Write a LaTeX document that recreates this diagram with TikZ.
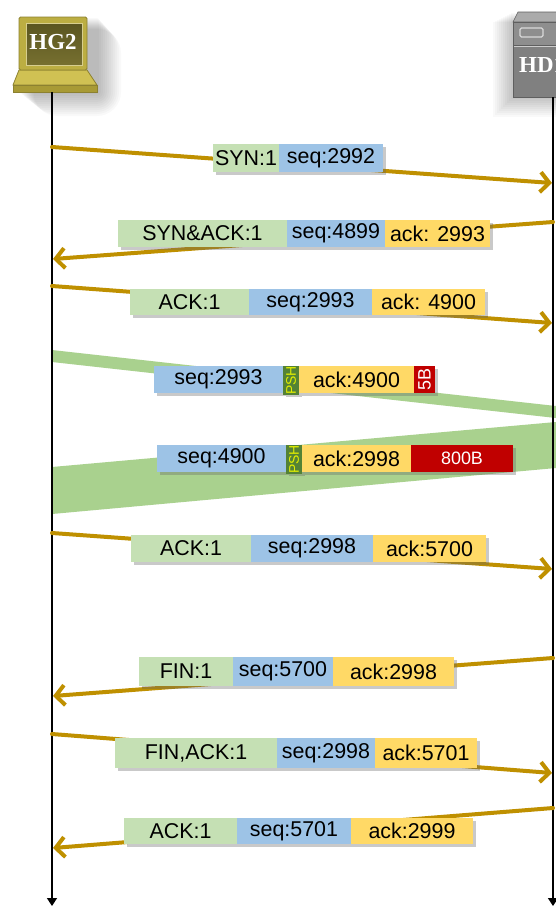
\documentclass[tikz,border=0pt]{standalone}
\usepackage{fontspec}
\setmainfont{Liberation Sans}
\newfontfamily\iconfont{Liberation Serif}
\usetikzlibrary{arrows.meta,shadows}
\definecolor{cgreen}{HTML}{C5E0B4}
\definecolor{cblue}{HTML}{9DC3E6}
\definecolor{cyellow}{HTML}{FFD966}
\definecolor{cred}{HTML}{C00000}
\definecolor{cpsh}{HTML}{548235}
\definecolor{cpshtext}{HTML}{E2EE00}
\definecolor{carrow}{HTML}{BF9000}
\definecolor{cband}{HTML}{A9D18E}
\definecolor{lapframe}{HTML}{BCAE42}
\definecolor{lapedge}{HTML}{8C8130}
\definecolor{lapscrtop}{HTML}{5A5520}
\definecolor{lapscrbot}{HTML}{777030}
\definecolor{lapbase}{HTML}{D0C153}
\definecolor{laprim}{HTML}{A89A35}
\definecolor{srvbody}{HTML}{808080}
\definecolor{srvtop}{HTML}{8E8E8E}
\definecolor{srvlid}{HTML}{ABABAB}
\definecolor{srvedge}{HTML}{5F5F5F}
\tikzset{
  lbl/.style={inner sep=0pt, outer sep=0pt, anchor=north west,
    font=\fontsize{21.5}{24}\selectfont, text=black,
    drop shadow={shadow xshift=2.5bp, shadow yshift=-2.5bp, opacity=0.35, fill=black!60}},
  gbox/.style={lbl, fill=cgreen},
  bbox/.style={lbl, fill=cblue},
  ybox/.style={lbl, fill=cyellow},
  rbox/.style={lbl, fill=cred, text=white},
  pshbox/.style={lbl, fill=cpsh, text=cpshtext, font=\fontsize{14}{14}\selectfont},
  msg/.style={draw=carrow, line width=4bp, line cap=round,
    -{Straight Barb[length=9bp,width=20bp,line width=4bp]}},
  life/.style={draw=black, line width=1.4bp, -{Triangle[length=8bp,width=10bp]}},
  band/.style={fill=cband},
  icontext/.style={text=white, font=\iconfont\bfseries\fontsize{23}{25}\selectfont, inner sep=0pt},
}
\begin{document}
\begin{tikzpicture}[x=1bp,y=-1bp]
\clip (0,0) rectangle (556,907);
\fill[white] (0,0) rectangle (556,907);

% ---------- laptop HG2 ----------
\foreach \s in {2,4,...,24}{
  \fill[black,opacity=0.025,rounded corners=\s bp] (19+\s*0.6,17+\s*0.5) rectangle (97+\s,92+\s);
}
\fill[lapbase,draw=lapedge,line width=0.8bp] (19,70) -- (87,70) -- (97,85) -- (13,85) -- cycle;
\fill[laprim,draw=lapedge,line width=0.6bp] (13,85) rectangle (97,92);
\fill[lapframe,draw=lapedge,line width=0.8bp,rounded corners=1.5bp] (19,17) rectangle (87,70);
\shade[top color=lapscrtop,bottom color=lapscrbot,draw=lapframe!60!white,line width=1bp] (26,23) rectangle (82,65);
\node[icontext] (hg2) at (53,42) {HG2};
\coordinate (Ltop) at (52,92);

% ---------- server HD1 ----------
\foreach \s in {2,4,...,20}{
  \fill[black,opacity=0.025] (513-\s,12+\s*0.5) rectangle (570,97+\s);
}
\fill[srvlid,draw=srvedge,line width=0.6bp] (513,22) -- (518,12) -- (570,12) -- (570,22) -- cycle;
\fill[srvtop,draw=srvedge,line width=0.6bp] (513,22) rectangle (570,45);
\fill[srvbody,draw=srvedge,line width=0.6bp] (513,45) rectangle (570,97);
\draw[white!60!gray,line width=0.8bp] (514,46) -- (569,46);
\draw[white!85!black,line width=1.3bp,rounded corners=1.5bp] (520,28) rectangle (543,37);
\node[icontext, anchor=west] (hd1) at (519,65) {HD1};
\coordinate (Rtop) at (553,97);

% ---------- lifelines ----------
\coordinate (Lbot) at (52,906);
\coordinate (Rbot) at (553,906);

% ---------- data bands ----------
\fill[band] (52,350) -- (556,406) -- (556,418) -- (52,362) -- cycle;
\fill[band] (556,422) -- (52,467) -- (52,514) -- (556,468) -- cycle;

\draw[life] (Ltop) -- (Lbot);
\draw[life] (Rtop) -- (Rbot);

% ---------- message endpoints ----------
\coordinate (m1s) at (52,147);  \coordinate (m1e) at (552,183);
\coordinate (m2s) at (553,222); \coordinate (m2e) at (53,259);
\coordinate (m3s) at (52,286);  \coordinate (m3e) at (552,323);
\coordinate (m6s) at (52,533);  \coordinate (m6e) at (552,569);
\coordinate (m7s) at (553,658); \coordinate (m7e) at (53,696);
\coordinate (m8s) at (52,734);  \coordinate (m8e) at (552,773);
\coordinate (m9s) at (553,808); \coordinate (m9e) at (53,848);

\draw[msg] (m1s) -- (m1e);
\draw[msg] (m2s) -- (m2e);
\draw[msg] (m3s) -- (m3e);
\draw[msg] (m6s) -- (m6e);
\draw[msg] (m7s) -- (m7e);
\draw[msg] (m8s) -- (m8e);
\draw[msg] (m9s) -- (m9e);

% ---------- labels ----------
% 1
\node[gbox, minimum width=66bp, minimum height=28bp] (l1a) at (213,144) {SYN:1};
\node[bbox, minimum width=104bp, minimum height=28bp] (l1b) at (l1a.north east) {seq:2992\hspace{10bp}};
% 2
\node[gbox, minimum width=169bp, minimum height=27bp] (l2a) at (118,220) {SYN\&ACK:1};
\node[bbox, minimum width=98bp, minimum height=27bp] (l2b) at (l2a.north east) {seq:4899};
\node[ybox, minimum width=105bp, minimum height=27bp] (l2c) at (l2b.north east) {ack: 2993};
% 3
\node[gbox, minimum width=119bp, minimum height=26bp] (l3a) at (130,289) {ACK:1};
\node[bbox, minimum width=123bp, minimum height=26bp] (l3b) at (l3a.north east) {seq:2993};
\node[ybox, minimum width=113bp, minimum height=26bp] (l3c) at (l3b.north east) {ack: 4900};
% 4
\node[bbox, minimum width=129bp, minimum height=27bp] (l4a) at (154,366) {seq:2993};
\node[pshbox, minimum width=16bp, minimum height=27bp] (l4b) at (l4a.north east) {\rotatebox{90}{PSH}};
\node[ybox, minimum width=115bp, minimum height=27bp] (l4c) at (l4b.north east) {ack:4900};
\node[rbox, minimum width=21bp, minimum height=27bp, font=\fontsize{18}{18}\selectfont] (l4d) at (l4c.north east) {\rotatebox{90}{5B}};
% 5
\node[bbox, minimum width=129bp, minimum height=27bp] (l5a) at (157,445) {seq:4900};
\node[pshbox, minimum width=16bp, minimum height=27bp] (l5b) at (l5a.north east) {\rotatebox{90}{PSH}};
\node[ybox, minimum width=109bp, minimum height=27bp] (l5c) at (l5b.north east) {ack:2998};
\node[rbox, minimum width=102bp, minimum height=27bp, font=\fontsize{18}{20}\selectfont] (l5d) at (l5c.north east) {800B};
% 6
\node[gbox, minimum width=120bp, minimum height=27bp] (l6a) at (131,535) {ACK:1};
\node[bbox, minimum width=122bp, minimum height=27bp] (l6b) at (l6a.north east) {seq:2998};
\node[ybox, minimum width=113bp, minimum height=27bp] (l6c) at (l6b.north east) {ack:5700};
% 7
\node[gbox, minimum width=94bp, minimum height=29bp] (l7a) at (139,657) {FIN:1};
\node[bbox, minimum width=100bp, minimum height=29bp] (l7b) at (l7a.north east) {seq:5700};
\node[ybox, minimum width=121bp, minimum height=29bp] (l7c) at (l7b.north east) {ack:2998};
% 8
\node[gbox, minimum width=162bp, minimum height=30bp] (l8a) at (115,738) {FIN,ACK:1};
\node[bbox, minimum width=98bp, minimum height=30bp] (l8b) at (l8a.north east) {seq:2998};
\node[ybox, minimum width=102bp, minimum height=30bp] (l8c) at (l8b.north east) {ack:5701};
% 9
\node[gbox, minimum width=113bp, minimum height=26bp] (l9a) at (124,818) {ACK:1};
\node[bbox, minimum width=114bp, minimum height=26bp] (l9b) at (l9a.north east) {seq:5701};
\node[ybox, minimum width=122bp, minimum height=26bp] (l9c) at (l9b.north east) {ack:2999};
\end{tikzpicture}
\end{document}
